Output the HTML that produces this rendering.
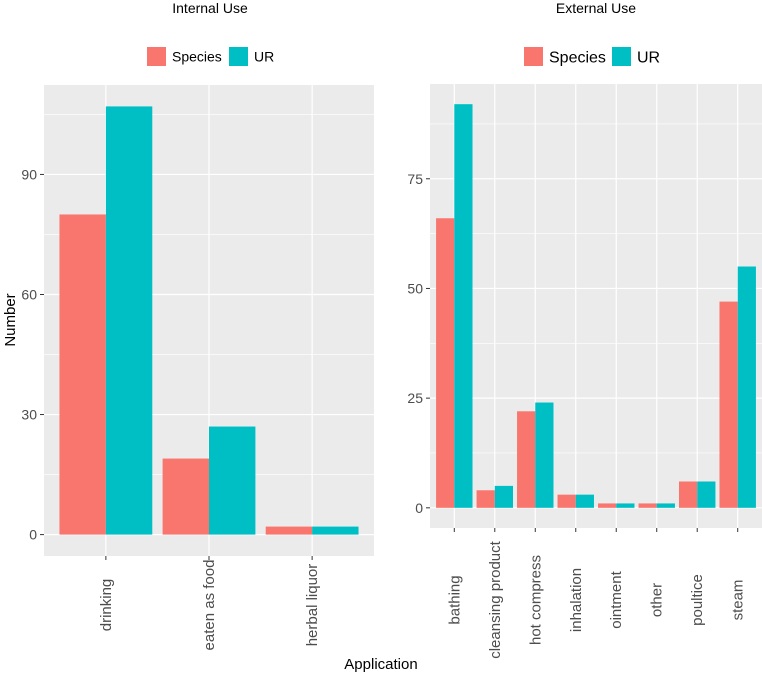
<!DOCTYPE html>
<html><head><meta charset="utf-8"><style>
body{margin:0;background:#fff;}
svg text{font-family:"Liberation Sans",sans-serif;}
</style></head><body>
<svg id="c" width="762" height="675" xmlns="http://www.w3.org/2000/svg"></svg>
<script>
const leftCats=["drinking","eaten as food","herbal liquor"];
const leftSpecies=[80,19,2];
const leftUR=[107,27,2];
const leftTicks=[0,30,60,90];
const rightCats=["bathing","cleansing product","hot compress","inhalation","ointment","other","poultice","steam"];
const rightSpecies=[66,4,22,3,1,1,6,47];
const rightUR=[92,5,24,3,1,1,6,55];
const rightTicks=[0,25,50,75];
const NS="http://www.w3.org/2000/svg";
const svg=document.getElementById('c');
function mk(t,a,p){const e=document.createElementNS(NS,t);for(const k in a)e.setAttribute(k,a[k]);(p||svg).appendChild(e);return e;}
function panel(o){
  const g=mk('g',{});
  
  
  const maxV=Math.max(...o.s,...o.u);
  const lo=-maxV*0.05,hi=maxV*1.05;
  const y=v=>o.bottom-(v-lo)/(hi-lo)*(o.bottom-o.top);
  const n=o.cats.length;
  const step=(o.right-o.left)/(n+0.2);
  const cx=i=>o.left+step*(0.6+i);
  const bg=mk('rect',{x:o.left,y:o.top,width:o.right-o.left,height:o.bottom-o.top,fill:'#ebebeb'},g);
  
  for(let k=0;k<o.ticks.length-1;k++){const m=(o.ticks[k]+o.ticks[k+1])/2;mk('line',{x1:o.left,x2:o.right,y1:y(m),y2:y(m),stroke:'#fff','stroke-width':0.6},g);}
  if(o.ticks.length){const d=o.ticks[1]-o.ticks[0];const m=o.ticks[o.ticks.length-1]+d/2;if(m<hi)mk('line',{x1:o.left,x2:o.right,y1:y(m),y2:y(m),stroke:'#fff','stroke-width':0.6},g);}
  o.ticks.forEach(t=>{
    mk('line',{x1:o.left,x2:o.right,y1:y(t),y2:y(t),stroke:'#fff','stroke-width':1.2},g);
    mk('line',{x1:o.left-4,x2:o.left,y1:y(t),y2:y(t),stroke:'#333'},g);
    const tx=mk('text',{x:o.left-7,y:y(t)+5,'text-anchor':'end','font-size':14,fill:'#4d4d4d'},g);tx.textContent=t;
    
  });
  const bw=step*0.45;
  o.cats.forEach((c,i)=>{
    mk('line',{x1:cx(i),x2:cx(i),y1:o.top,y2:o.bottom,stroke:'#fff','stroke-width':1.2},g);
    const b1=mk('rect',{x:cx(i)-bw,y:y(o.s[i]),width:bw,height:y(0)-y(o.s[i]),fill:'#f8766d'},g);
    
    const b2=mk('rect',{x:cx(i),y:y(o.u[i]),width:bw,height:y(0)-y(o.u[i]),fill:'#00bfc4'},g);
    
    mk('line',{x1:cx(i),x2:cx(i),y1:o.bottom,y2:o.bottom+4,stroke:'#333'},g);
    const tx=mk('text',{x:0,y:0,'text-anchor':'middle','font-size':15,fill:'#4d4d4d',transform:`translate(${cx(i)+5},${o.labY}) rotate(-90)`},g);
    tx.textContent=c;
  });
  const tt=mk('text',{x:o.tx,y:13,'text-anchor':'middle','font-size':14,fill:'#000'},g);tt.textContent=o.title;
  
  const L=o.leg;
  const r1=mk('rect',{x:L.x,y:L.y,width:L.s,height:L.s,fill:'#f8766d'},g);
  const t1=mk('text',{x:L.x+L.s+6,y:L.y+L.s/2+L.f*0.36,'font-size':L.f},g);t1.textContent='Species';
  const r2=mk('rect',{x:L.x2,y:L.y,width:L.s,height:L.s,fill:'#00bfc4'},g);
  const t2=mk('text',{x:L.x2+L.s+6,y:L.y+L.s/2+L.f*0.36,'font-size':L.f},g);t2.textContent='UR';
}
panel({name:'internal-use-panel',cats:leftCats,s:leftSpecies,u:leftUR,ticks:leftTicks,left:44,right:374,top:85,bottom:556,labY:605,title:'Internal Use',tx:210,leg:{x:147,x2:229,y:47,s:19,f:14}});
panel({name:'external-use-panel',cats:rightCats,s:rightSpecies,u:rightUR,ticks:rightTicks,left:430,right:762,top:84,bottom:528,labY:600,title:'External Use',tx:596,leg:{x:524,x2:612,y:47,s:19,f:16}});
const yl=mk('text',{x:0,y:0,'text-anchor':'middle','font-size':15,transform:'translate(15,320) rotate(-90)'});yl.textContent='Number';

const xl=mk('text',{x:381,y:669,'text-anchor':'middle','font-size':15});xl.textContent='Application';

</script>
</body></html>
